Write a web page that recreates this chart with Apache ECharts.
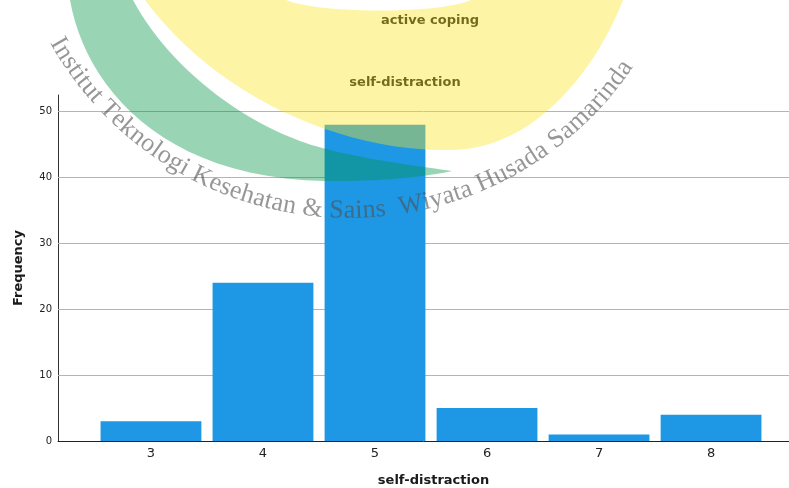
<!DOCTYPE html>
<html>
<head>
<meta charset="utf-8">
<script src="https://cdn.jsdelivr.net/npm/echarts@6/dist/echarts.min.js"></script>
<style>
  html, body { margin: 0; padding: 0; background: #fff; }
  #chart { width: 789px; height: 488px; }
</style>
</head>
<body>
<div id="chart"></div>
<script>
// values
var categories = [3, 4, 5, 6, 7, 8];
var frequency = [3, 24, 48, 5, 1, 4];
var yTicks = [0, 10, 20, 30, 40, 50];
var titleLines = ['active coping', 'self-distraction'];
var xName = 'self-distraction';
var yName = 'Frequency';
var watermarkText = 'Institut Teknologi Kesehatan & Sains  Wiyata Husada Samarinda';

var chart = echarts.init(document.getElementById('chart'));

// logo watermark outlines: start point, then [c1, c2, end] cubic segments or [pt] straight segments
var yellowOutline = [[140,-10], [[145,0]], [[215,95],[340,152],[450,150]], [[540,150],[600,60],[623,0]],
  [[628,-10]], [[478,-10]], [[471,0]], [[440,14],[320,14],[286,0]], [[280,-10]]];
var greenOutline = [[66,-10], [[70,0]], [[85,85],[160,178],[325,181]], [[380,182],[430,176],[452,171]],
  [[410,165],[340,156],[300,141]], [[230,115],[165,60],[133,0]], [[128,-10]]];

function outlinePoints(outline) {
  var pts = [outline[0]];
  for (var i = 1; i < outline.length; i++) {
    var seg = outline[i];
    var p0 = pts[pts.length - 1];
    if (seg.length === 1) { pts.push(seg[0]); continue; }
    for (var s = 1; s <= 24; s++) {
      var t = s / 24, u = 1 - t;
      pts.push([
        u*u*u*p0[0] + 3*u*u*t*seg[0][0] + 3*u*t*t*seg[1][0] + t*t*t*seg[2][0],
        u*u*u*p0[1] + 3*u*u*t*seg[0][1] + 3*u*t*t*seg[1][1] + t*t*t*seg[2][1]
      ]);
    }
  }
  return pts;
}

function watermarkLetters() {
  var font = '26px "Liberation Serif"';
  var ctx = document.createElement('canvas').getContext('2d');
  ctx.font = font;
  var chars = watermarkText.split('');
  var w = chars.map(function (c) { return ctx.measureText(c).width; });
  var total = w.reduce(function (a, b) { return a + b; }, 0);
  var cx = 349, cy = -125, R = 336;
  var a0 = 150 * Math.PI / 180, a1 = 35 * Math.PI / 180;
  var natural = total - w[0] / 2 - w[w.length - 1] / 2;
  var k = (a0 - a1) * R / natural;
  var out = [], acc = 0;
  chars.forEach(function (c, i) {
    var s = (acc + w[i] / 2 - w[0] / 2) * k;
    acc += w[i];
    if (c === ' ') return;
    var a = a0 - s / R;
    out.push({
      type: 'text',
      x: cx + R * Math.cos(a),
      y: cy + R * Math.sin(a),
      rotation: Math.PI / 2 - a,
      z: 101,
      silent: true,
      style: {
        text: c, font: font, fill: 'rgba(80,80,80,0.6)',
        align: 'center', verticalAlign: 'middle'
      }
    });
  });
  return out;
}

var graphics = [
  { type: 'polygon', z: 100, silent: true, shape: { points: outlinePoints(yellowOutline) },
    style: { fill: 'rgba(250,230,30,0.4)' } },
  { type: 'polygon', z: 100, silent: true, shape: { points: outlinePoints(greenOutline) },
    style: { fill: 'rgba(0,150,70,0.4)' } },
  { type: 'text', x: 430, y: 21, z: 50, style: { text: titleLines[0], font: 'bold 13px "DejaVu Sans"',
    fill: '#1a1a1a', align: 'center', verticalAlign: 'middle' } },
  { type: 'text', x: 405, y: 83, z: 50, style: { text: titleLines[1], font: 'bold 13px "DejaVu Sans"',
    fill: '#1a1a1a', align: 'center', verticalAlign: 'middle' } }
].concat(watermarkLetters());

chart.setOption({
  animation: false,
  grid: { left: 58, right: 0, top: 95, bottom: 47, outerBoundsMode: 'none', containLabel: false },
  xAxis: {
    type: 'value',
    min: 2.17,
    max: 8.696,
    name: xName,
    nameLocation: 'middle',
    nameGap: 33,
    nameTextStyle: { fontFamily: 'DejaVu Sans', fontWeight: 'bold', fontSize: 13, color: '#1a1a1a', padding: [0, 0, 0, 20] },
    axisLine: { lineStyle: { color: '#222', width: 1 } },
    axisTick: { show: false },
    splitLine: { show: false },
    axisLabel: { customValues: categories, fontFamily: 'DejaVu Sans', fontSize: 13, color: '#222', margin: 6 }
  },
  yAxis: {
    type: 'value',
    min: 0,
    max: 52.5,
    name: yName,
    nameLocation: 'middle',
    nameGap: 33,
    nameTextStyle: { fontFamily: 'DejaVu Sans', fontWeight: 'bold', fontSize: 13, color: '#1a1a1a' },
    axisLine: { show: true, lineStyle: { color: '#333', width: 1 } },
    axisTick: { show: false },
    splitLine: { show: false },
    axisLabel: { customValues: yTicks, fontFamily: 'DejaVu Sans', fontSize: 10, color: '#222', margin: 6 }
  },
  series: [{
    type: 'bar',
    barWidth: '90%',
    data: categories.map(function (c, i) { return [c, frequency[i]]; }),
    itemStyle: { color: '#1e97e5' },
    silent: true,
    markLine: {
      z: 1,
      silent: true,
      symbol: 'none',
      label: { show: false },
      lineStyle: { color: '#b4b4b4', type: 'solid', width: 1 },
      data: yTicks.filter(function (v) { return v > 0; }).map(function (v) { return { yAxis: v }; })
    }
  }],
  graphic: graphics
});
</script>
</body>
</html>
